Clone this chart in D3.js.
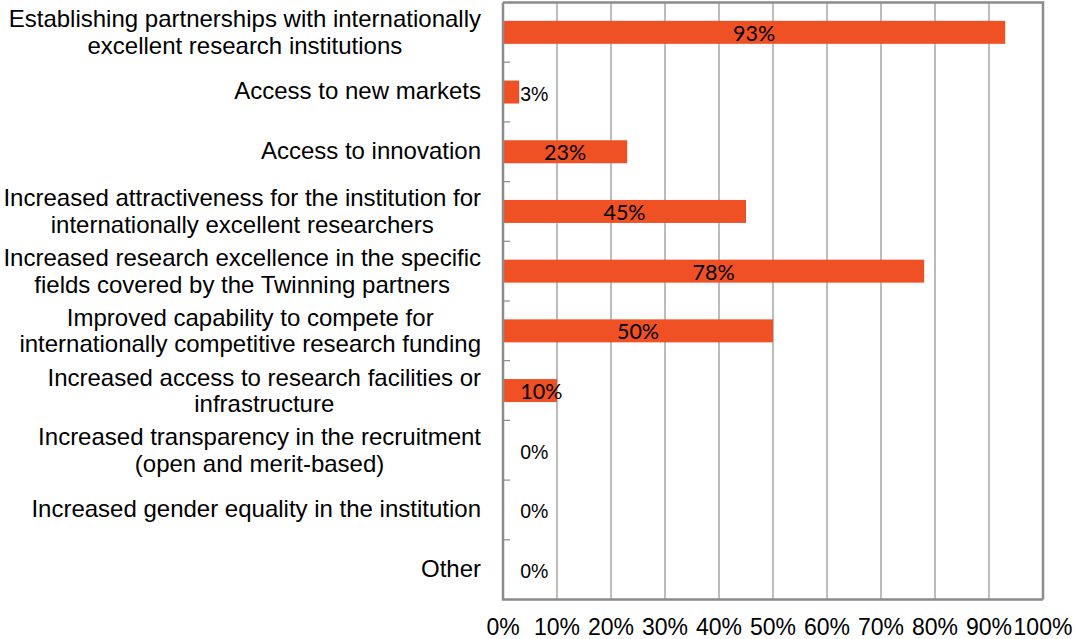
<!DOCTYPE html>
<html>
<head>
<meta charset="utf-8" />
<title>Twinning benefits</title>
<script src="https://d3js.org/d3.v7.min.js"></script>
<style>
	body { margin: 0; background: #fff; }
	svg { display: block; }
</style>
</head>
<body>
<div id="my_dataviz"></div>
<script>
// data
var categories = [
	"Establishing partnerships with internationally\nexcellent research institutions",
	"Access to new markets",
	"Access to innovation",
	"Increased attractiveness for the institution for\ninternationally excellent researchers",
	"Increased research excellence in the specific\nfields covered by the Twinning partners",
	"Improved capability to compete for\ninternationally competitive research funding",
	"Increased access to research facilities or\ninfrastructure",
	"Increased transparency in the recruitment\n(open and merit-based)",
	"Increased gender equality in the institution",
	"Other"
];
var values = [0.93, 0.03, 0.23, 0.45, 0.78, 0.50, 0.10, 0, 0, 0];
var xTicks = [0, 0.1, 0.2, 0.3, 0.4, 0.5, 0.6, 0.7, 0.8, 0.9, 1.0];

var width = 1075, height = 639;
var plot = {left: 503, right: 1043, top: 2.5, bottom: 599.5};
var barColor = "#f05124";
var axisColor = "#8c8c8c";
var gridColor = "#a6a6a6";
var fmt = d3.format(".0%");

var svg = d3.select("#my_dataviz")
	.append("svg")
	.attr("width", width)
	.attr("height", height);

// scales
var x = d3.scaleLinear()
	.domain([0, 1])
	.range([plot.left, plot.right]);

var pad = 0.615;
var y = d3.scaleBand()
	.domain(categories)
	.range([plot.top, plot.bottom])
	.paddingInner(pad)
	.paddingOuter(pad / 2);

// gridlines
svg.append("g")
	.selectAll("line")
	.data(xTicks.filter(function(t) { return t > 0 && t < 1; }))
	.enter()
	.append("line")
	.attr("x1", function(d) { return x(d); })
	.attr("x2", function(d) { return x(d); })
	.attr("y1", plot.top)
	.attr("y2", plot.bottom)
	.attr("stroke", gridColor)
	.attr("stroke-width", 1.5);

// frame: top and right
svg.append("path")
	.attr("d", "M" + x(0) + "," + plot.top + "H" + x(1) + "V" + plot.bottom)
	.attr("fill", "none")
	.attr("stroke", axisColor)
	.attr("stroke-width", 2.5);

// bars
svg.append("g")
	.selectAll("rect")
	.data(values)
	.enter()
	.append("rect")
	.attr("x", x(0))
	.attr("y", function(d, i) { return y(categories[i]); })
	.attr("width", function(d) { return x(d) - x(0); })
	.attr("height", y.bandwidth())
	.attr("fill", barColor);

// category boundary ticks (inside the plot)
var boundaries = categories.slice(1).map(function(c) { return y(c) - y.step() * pad / 2; });
svg.append("g")
	.selectAll("line")
	.data(boundaries)
	.enter()
	.append("line")
	.attr("x1", x(0))
	.attr("x2", x(0) + 7)
	.attr("y1", function(d) { return d; })
	.attr("y2", function(d) { return d; })
	.attr("stroke", axisColor)
	.attr("stroke-width", 1.2);

// axes lines left and bottom
svg.append("path")
	.attr("d", "M" + x(0) + "," + plot.top + "V" + plot.bottom + "H" + x(1))
	.attr("fill", "none")
	.attr("stroke", axisColor)
	.attr("stroke-width", 2.5);

// value labels
var lab = svg.append("g");
values.forEach(function(v, i) {
	var cy = y(categories[i]) + y.bandwidth() / 2;
	if (v >= 0.05) {
		var t = lab.append("text")
			.attr("x", (x(0) + x(v)) / 2)
			.attr("y", cy + 8.5)
			.attr("text-anchor", "middle")
			.style("font-family", "Lato, 'Open Sans', sans-serif")
			.style("font-size", "21.5px")
			.style("fill", "#000")
			.text(fmt(v));
		var w = t.node().getComputedTextLength();
		var minStart = x(0.03) + 1;
		if ((x(0) + x(v)) / 2 - w / 2 < minStart) {
			t.attr("x", minStart + w / 2);
		}
	} else {
		lab.append("text")
			.attr("x", Math.max(x(v), x(0.03)) + 1)
			.attr("y", cy + 8.5)
			.attr("text-anchor", "start")
			.style("font-family", "'Liberation Sans', Arial, sans-serif")
			.style("font-size", "19.5px")
			.style("fill", "#000")
			.text(fmt(v));
	}
});

// category labels (block right-aligned, lines centered)
var catG = svg.append("g")
	.style("font-family", "'Liberation Sans', Arial, sans-serif")
	.style("font-size", "24px")
	.style("fill", "#000");
var labelRight = 481;
var lineH = 26.5;
categories.forEach(function(c) {
	var lines = c.split("\n");
	var cy = y(c) + y.bandwidth() / 2;
	var t = catG.append("text").attr("text-anchor", "middle");
	var spans = lines.map(function(l, j) {
		return t.append("tspan")
			.attr("y", lines.length > 1 ? cy - 5 + j * lineH : cy + 7)
			.text(l);
	});
	var maxW = d3.max(spans, function(s) { return s.node().getComputedTextLength(); });
	spans.forEach(function(s) { s.attr("x", labelRight - maxW / 2); });
});

// x tick labels
svg.append("g")
	.selectAll("text")
	.data(xTicks)
	.enter()
	.append("text")
	.attr("x", function(d) { return x(d); })
	.attr("y", 635)
	.attr("text-anchor", "middle")
	.style("font-family", "'Liberation Sans', Arial, sans-serif")
	.style("font-size", "23px")
	.style("fill", "#000")
	.text(function(d) { return fmt(d); });
</script>
</body>
</html>
